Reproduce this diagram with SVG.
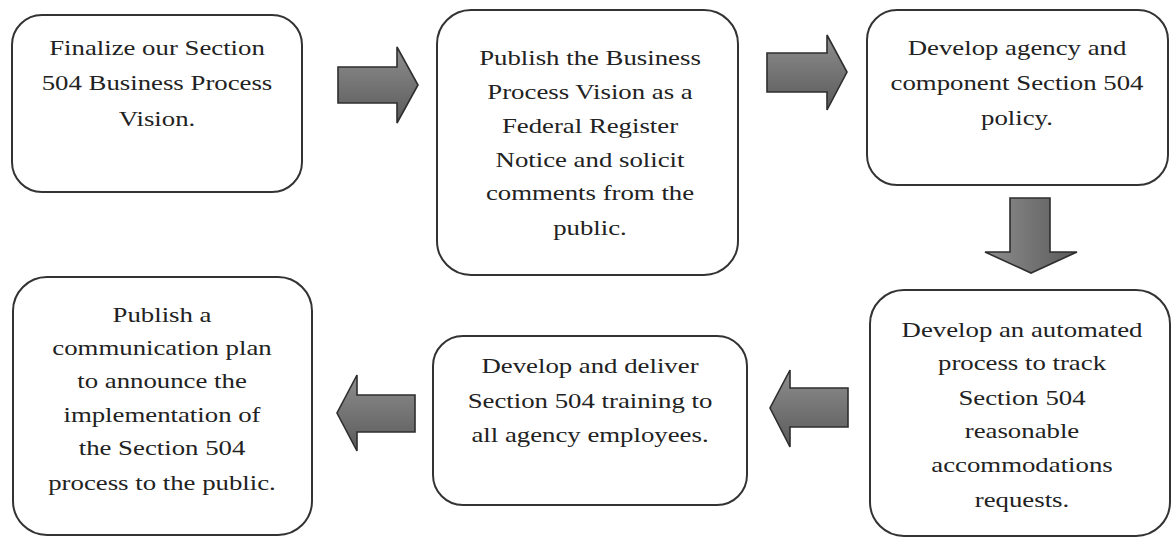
<svg xmlns="http://www.w3.org/2000/svg" width="1173" height="541" viewBox="0 0 1173 541">
<defs>
<linearGradient id="gh" x1="0" y1="0" x2="0" y2="1">
<stop offset="0" stop-color="#8e8e8e"/>
<stop offset="0.5" stop-color="#747474"/>
<stop offset="1" stop-color="#5a5a5a"/>
</linearGradient>
<linearGradient id="gv" x1="0" y1="0" x2="1" y2="0">
<stop offset="0" stop-color="#8e8e8e"/>
<stop offset="0.5" stop-color="#747474"/>
<stop offset="1" stop-color="#5a5a5a"/>
</linearGradient>
</defs>
<style>
.box{fill:#ffffff;stroke:#333333;stroke-width:2}
.arr{stroke:#2e2e2e;stroke-width:1.6;stroke-linejoin:miter}
.t{font-family:"Liberation Serif","Times New Roman",serif;font-size:20px;fill:#222222;text-anchor:middle}
</style>
<rect width="1173" height="541" fill="#ffffff"/>
<g id="connectors">
<polygon class="arr" fill="url(#gh)" points="338,67 397,67 397,47 418,85 397,123 397,103 338,103"/>
<polygon class="arr" fill="url(#gh)" points="767,53 827,53 827,35 847,72 827,110 827,92 767,92"/>
<polygon class="arr" fill="url(#gv)" points="1010,198 1050,198 1050,252 1077,252 1031,273 985,252 1010,252"/>
<polygon class="arr" fill="url(#gh)" points="848,388 790,388 790,370 770,408 790,447 790,427 848,427"/>
<polygon class="arr" fill="url(#gh)" points="415,395 357,395 357,375 337,413 357,451 357,432 415,432"/>
</g>
<g id="node1">
<rect class="box" x="12" y="15" width="290" height="177" rx="30"/>
<text class="t" transform="translate(157,0) scale(1.34,1)"><tspan x="0" y="55">Finalize our Section</tspan><tspan x="0" y="90">504 Business Process</tspan><tspan x="0" y="126">Vision.</tspan></text>
</g>
<g id="node2">
<rect class="box" x="437" y="10" width="301" height="265" rx="34"/>
<text class="t" transform="translate(590,0) scale(1.34,1)"><tspan x="0" y="65">Publish the Business</tspan><tspan x="0" y="99">Process Vision  as a</tspan><tspan x="0" y="133">Federal Register</tspan><tspan x="0" y="167">Notice and solicit</tspan><tspan x="0" y="200">comments from the</tspan><tspan x="0" y="235">public.</tspan></text>
</g>
<g id="node3">
<rect class="box" x="867" y="10" width="301" height="175" rx="30"/>
<text class="t" transform="translate(1017,0) scale(1.34,1)"><tspan x="0" y="55">Develop agency and</tspan><tspan x="0" y="90">component Section 504</tspan><tspan x="0" y="125">policy.</tspan></text>
</g>
<g id="node4">
<rect class="box" x="870" y="290" width="300" height="246" rx="34"/>
<text class="t" transform="translate(1022,0) scale(1.34,1)"><tspan x="0" y="337">Develop an automated</tspan><tspan x="0" y="370">process to track</tspan><tspan x="0" y="405">Section 504</tspan><tspan x="0" y="438">reasonable</tspan><tspan x="0" y="472">accommodations</tspan><tspan x="0" y="507">requests.</tspan></text>
</g>
<g id="node5">
<rect class="box" x="433" y="336" width="314" height="169" rx="30"/>
<text class="t" transform="translate(590,0) scale(1.34,1)"><tspan x="0" y="373">Develop and deliver</tspan><tspan x="0" y="408">Section 504 training to</tspan><tspan x="0" y="442">all agency employees.</tspan></text>
</g>
<g id="node6">
<rect class="box" x="13" y="277" width="299" height="258" rx="34"/>
<text class="t" transform="translate(162,0) scale(1.34,1)"><tspan x="0" y="322">Publish a</tspan><tspan x="0" y="355">communication plan</tspan><tspan x="0" y="388">to announce the</tspan><tspan x="0" y="422">implementation of</tspan><tspan x="0" y="455">the Section 504</tspan><tspan x="0" y="490">process to the public.</tspan></text>
</g>
</svg>
